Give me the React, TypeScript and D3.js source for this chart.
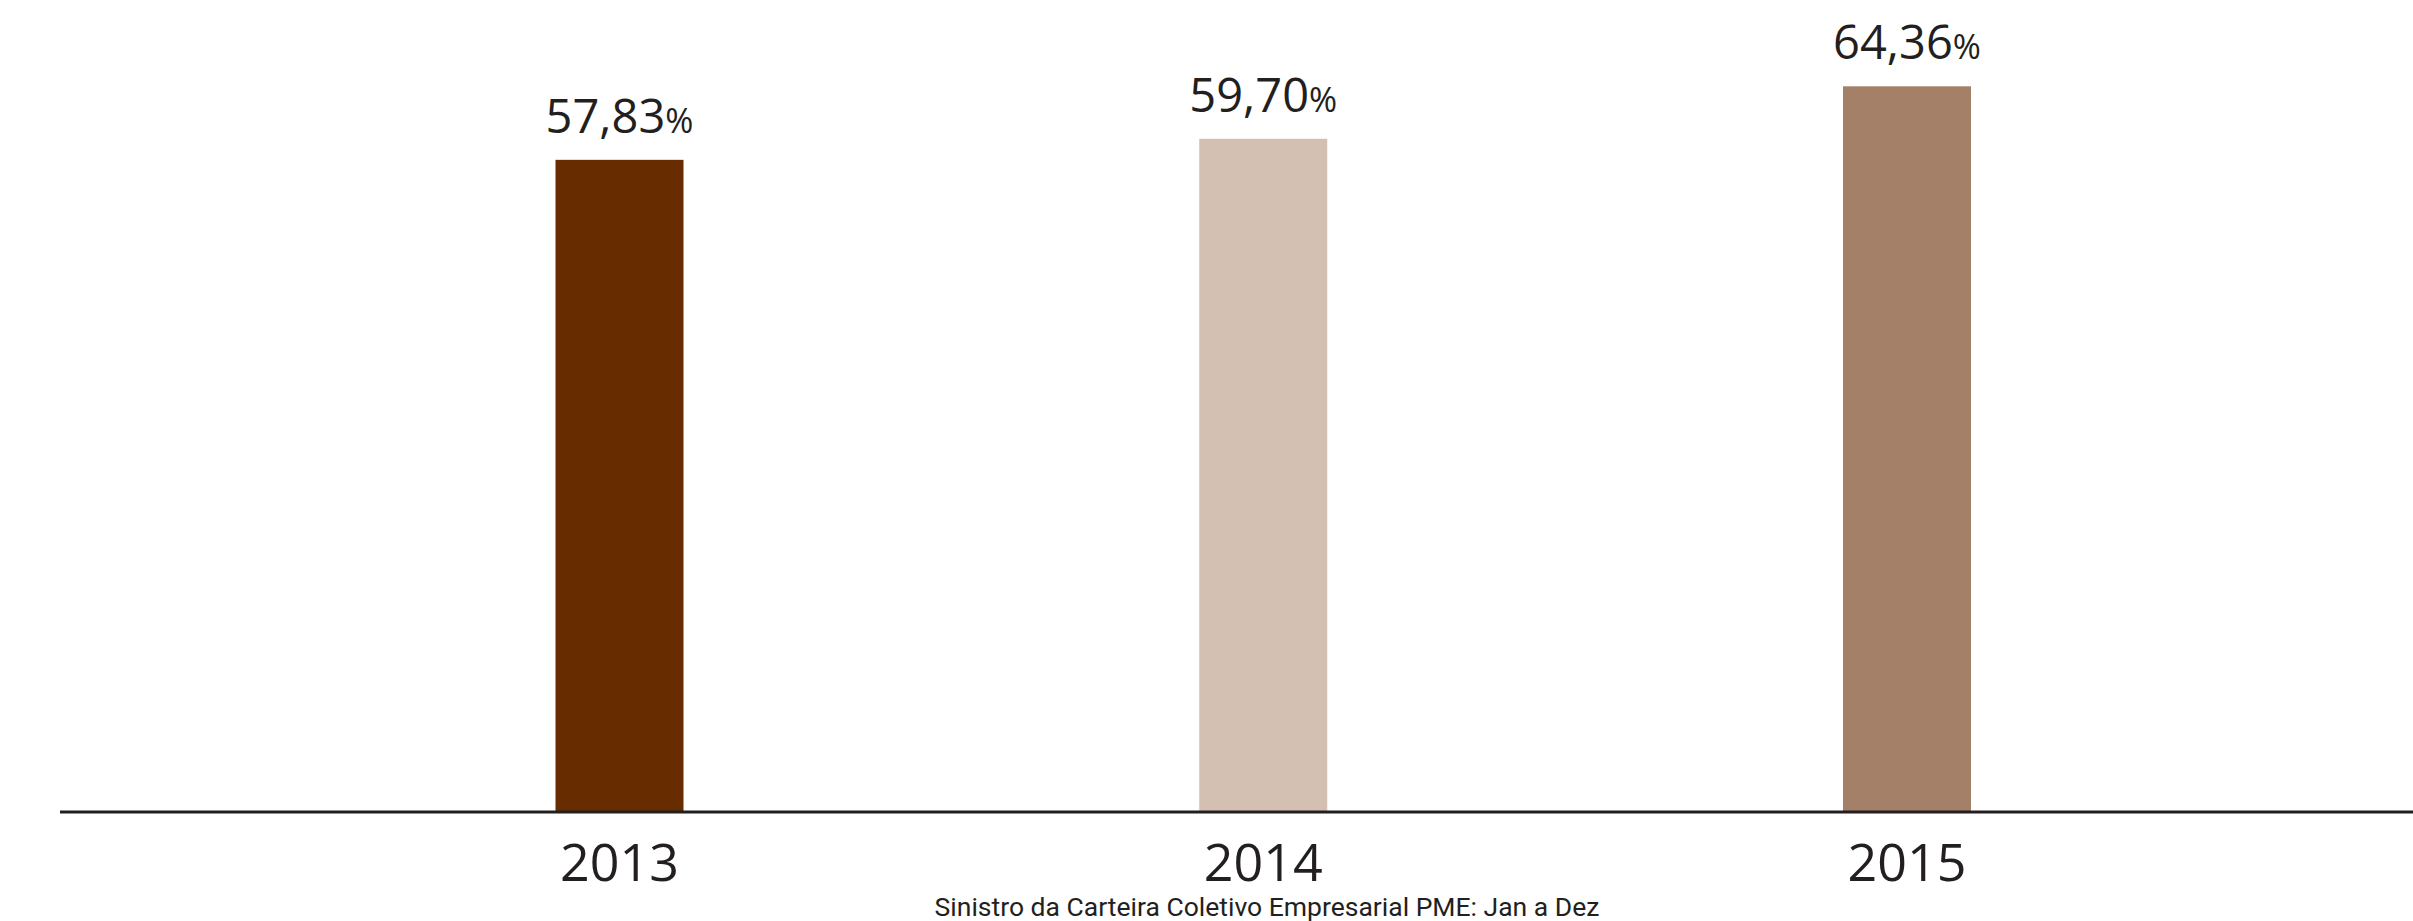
import React from "react";
import * as d3 from "d3";

const years = ["2013", "2014", "2015"];
const values = [57.83, 59.7, 64.36];
const valueLabels = ["57,83", "59,70", "64,36"];
const colors = ["#672d00", "#d3c0b2", "#a48068"];
const caption = "Sinistro da Carteira Coletivo Empresarial PME: Jan a Dez";

const W = 2413;
const H = 921;
const baseY = 811;
const barW = 128;

export default function App() {
  const x = d3.scalePoint<string>().domain(years).range([619.5, 1907]);
  const y = d3.scaleLinear().domain([0, 70]).range([baseY, baseY - 70 * 11.26]);
  const ink = "#231f20";
  return (
    <svg
      width={W}
      height={H}
      style={{ position: "absolute", left: 0, top: 0, background: "#fff" }}
      fontFamily="'Open Sans', sans-serif"
    >
      {years.map((yr, i) => {
        const cx = x(yr)!;
        const top = y(values[i]);
        return (
          <g key={yr}>
            <rect x={cx - barW / 2} y={top} width={barW} height={baseY - top} fill={colors[i]} />
            <text x={cx} y={top - 27} textAnchor="middle" fill={ink}>
              <tspan fontSize={47}>{valueLabels[i]}</tspan>
              <tspan fontSize={34}>%</tspan>
            </text>
            <text x={cx} y={881} textAnchor="middle" fontSize={52} fill={ink}>
              {yr}
            </text>
          </g>
        );
      })}
      <line x1={60} x2={W} y1={812} y2={812} stroke={ink} strokeWidth={3} />
      <text
        x={1267}
        y={916}
        textAnchor="middle"
        fontSize={26.5}
        fill={ink}
        fontFamily="Roboto, sans-serif"
      >
        {caption}
      </text>
    </svg>
  );
}
